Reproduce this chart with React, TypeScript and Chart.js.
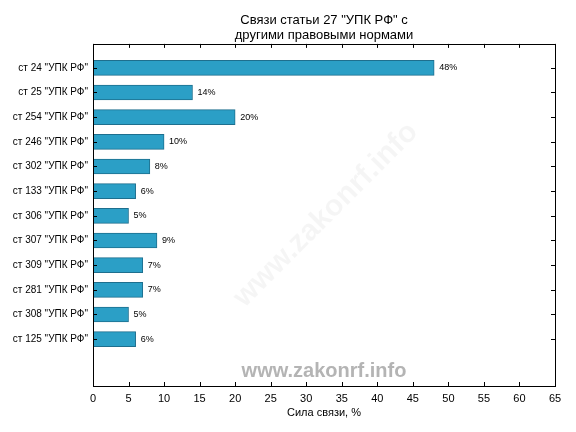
import React, { useEffect, useRef } from "react";
import { Chart, registerables } from "chart.js";

Chart.register(...registerables);

const categories = [
  'ст 24 "УПК РФ"',
  'ст 25 "УПК РФ"',
  'ст 254 "УПК РФ"',
  'ст 246 "УПК РФ"',
  'ст 302 "УПК РФ"',
  'ст 133 "УПК РФ"',
  'ст 306 "УПК РФ"',
  'ст 307 "УПК РФ"',
  'ст 309 "УПК РФ"',
  'ст 281 "УПК РФ"',
  'ст 308 "УПК РФ"',
  'ст 125 "УПК РФ"',
];
const values = [48, 14, 20, 10, 8, 6, 5, 9, 7, 7, 5, 6];
const xTicks = [0, 5, 10, 15, 20, 25, 30, 35, 40, 45, 50, 55, 60, 65];
const titleLines = ['Связи статьи 27 "УПК РФ" с', "другими правовыми нормами"];
const xTitle = "Сила связи, %";
const watermark = "www.zakonrf.info";

const FONT = "'Liberation Sans', Arial, sans-serif";

const framePlugin = {
  id: "frame",
  beforeDatasetsDraw(chart: any) {
    const { ctx, chartArea: a } = chart;
    ctx.save();
    ctx.beginPath();
    ctx.rect(a.left, a.top, a.right - a.left, a.bottom - a.top);
    ctx.clip();
    ctx.translate((a.left + a.right) / 2 + 2, (a.top + a.bottom) / 2);
    ctx.rotate(-45 * Math.PI / 180);
    ctx.fillStyle = "rgba(0,0,0,0.04)";
    ctx.font = `bold 30px ${FONT}`;
    ctx.textAlign = "center";
    ctx.textBaseline = "middle";
    ctx.fillText(watermark, 0, 0);
    ctx.restore();
  },
  afterDatasetsDraw(chart: any) {
    const { ctx, chartArea: a, scales } = chart;
    const xs = scales.x;
    const ys = scales.y;
    ctx.save();
    // value labels
    ctx.fillStyle = "#000";
    ctx.font = `9px ${FONT}`;
    ctx.textAlign = "left";
    ctx.textBaseline = "middle";
    values.forEach((v, i) => {
      ctx.fillText(v + "%", xs.getPixelForValue(v) + 5, ys.getPixelForValue(i));
    });
    // bottom watermark
    ctx.fillStyle = "#b4b4b4";
    ctx.font = `bold 20px ${FONT}`;
    ctx.textAlign = "center";
    ctx.fillText(watermark, (a.left + a.right) / 2, a.bottom - 15);
    // frame
    ctx.strokeStyle = "#000";
    ctx.lineWidth = 1;
    ctx.strokeRect(Math.round(a.left) + 0.5, Math.round(a.top) + 0.5, Math.round(a.right - a.left), Math.round(a.bottom - a.top));
    // inward ticks
    ctx.beginPath();
    xTicks.forEach((t) => {
      const px = Math.round(xs.getPixelForValue(t)) + 0.5;
      ctx.moveTo(px, a.bottom);
      ctx.lineTo(px, a.bottom - 4);
      ctx.moveTo(px, a.top);
      ctx.lineTo(px, a.top + 4);
    });
    categories.forEach((_, i) => {
      const py = Math.round(ys.getPixelForValue(i)) + 0.5;
      ctx.moveTo(a.left, py);
      ctx.lineTo(a.left + 4, py);
      ctx.moveTo(a.right, py);
      ctx.lineTo(a.right - 4, py);
    });
    ctx.stroke();
    ctx.restore();
  },
};

export default function App() {
  const ref = useRef<HTMLCanvasElement>(null);
  useEffect(() => {
    document.body.style.margin = "0";
    const chart = new Chart(ref.current!, {
      type: "bar",
      data: {
        datasets: [
          {
            data: values.map((v, i) => ({ x: v, y: i })),
            backgroundColor: "#2b9fc6",
            borderColor: "#1e6f8e",
            borderWidth: 1,
            borderSkipped: false,
            barThickness: 15,
          },
        ],
      },
      options: {
        indexAxis: "y",
        animation: false,
        responsive: false,
        layout: { padding: { left: 0, right: 21, top: 0, bottom: 12 } },
        plugins: {
          legend: { display: false },
          tooltip: { enabled: false },
          title: {
            display: true,
            text: titleLines,
            fullSize: false,
            color: "#000",
            font: { family: FONT, size: 13, weight: "normal", lineHeight: 1.15 },
            padding: { top: 13, bottom: 1 },
          },
        },
        scales: {
          x: {
            type: "linear",
            min: 0,
            max: 65,
            afterBuildTicks: (s: any) => {
              s.ticks = xTicks.map((v) => ({ value: v }));
            },
            afterFit: (s: any) => {
              s.height = 34;
            },
            grid: { display: false, drawTicks: false },
            border: { display: false },
            ticks: { color: "#000", font: { family: FONT, size: 11 }, padding: 6, maxRotation: 0 },
            title: {
              display: true,
              text: xTitle,
              color: "#000",
              font: { family: FONT, size: 11 },
              padding: { top: 2, bottom: 0 },
            },
          },
          y: {
            type: "linear",
            reverse: true,
            offset: false,
            min: -0.97,
            max: 12.9,
            afterBuildTicks: (s: any) => {
              s.ticks = categories.map((_, i) => ({ value: i }));
            },
            afterFit: (s: any) => {
              s.width = 93;
            },
            grid: { display: false, drawTicks: false, offset: false },
            border: { display: false },
            ticks: {
              color: "#000",
              font: { family: FONT, size: 10 },
              padding: 5,
              autoSkip: false,
              callback: (v: any) => categories[v as number] ?? "",
            },
          },
        },
      } as any,
      plugins: [framePlugin],
    });
    return () => chart.destroy();
  }, []);
  return (
    <div style={{ width: 576, height: 432, background: "#fff" }}>
      <canvas ref={ref} width={576} height={432} />
    </div>
  );
}
